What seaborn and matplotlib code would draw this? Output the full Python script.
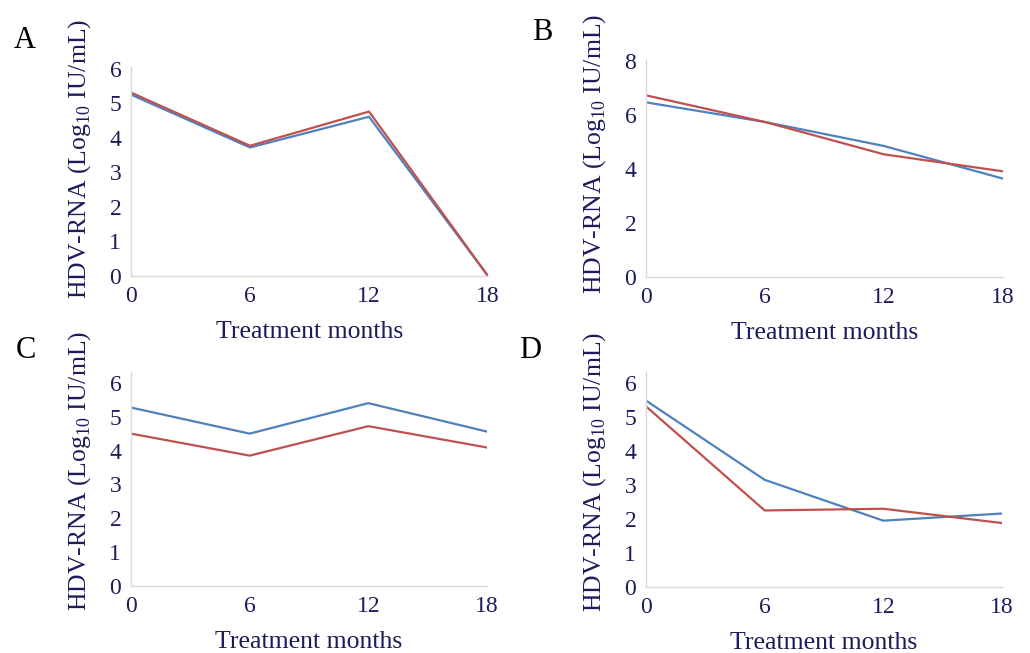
import pandas as pd
import matplotlib
matplotlib.use("Agg")
import matplotlib.pyplot as plt
import seaborn as sns

# months on the x axis
months = [0, 6, 12, 18]

# HDV-RNA values per panel (blue = first series, red = second series)
a_blue = [5.25, 3.72, 4.61, 0.0]
a_red = [5.31, 3.77, 4.76, 0.0]
b_blue = [6.48, 5.75, 4.86, 3.65]
b_red = [6.74, 5.75, 4.55, 3.92]
c_blue = [5.27, 4.50, 5.40, 4.56]
c_red = [4.50, 3.85, 4.72, 4.09]
d_blue = [5.48, 3.15, 1.95, 2.16]
d_red = [5.31, 2.25, 2.30, 1.88]

panel_letters = ["A", "B", "C", "D"]
y_limits = [(0, 6.05), (0, 8.05), (0, 6.32), (0, 6.32)]
y_ticks = [[0, 1, 2, 3, 4, 5, 6], [0, 2, 4, 6, 8],
           [0, 1, 2, 3, 4, 5, 6], [0, 1, 2, 3, 4, 5, 6]]

BLUE = "#4F81BD"
RED = "#C0504D"
NAVY = "#1c1c5c"
GRID = "#d9d9d9"

sns.set_style("white")
plt.rcParams["font.family"] = ["Liberation Serif", "DejaVu Serif"]
plt.rcParams["mathtext.fontset"] = "custom"
plt.rcParams["mathtext.rm"] = "Liberation Serif"


def make_frame(blue, red):
    rows = []
    for m, v in zip(months, blue):
        rows.append({"month": m, "value": v, "series": "blue"})
    for m, v in zip(months, red):
        rows.append({"month": m, "value": v, "series": "red"})
    return pd.DataFrame(rows)


frames = [make_frame(a_blue, a_red), make_frame(b_blue, b_red),
          make_frame(c_blue, c_red), make_frame(d_blue, d_red)]

W, H = 1030, 653
fig = plt.figure(figsize=(W / 100, H / 100), dpi=100)

# axes boxes in pixels: left, top, right, bottom
boxes = [(131, 67, 488, 276), (646, 60, 1003, 277),
         (131, 372, 487, 586), (646, 372, 1002, 587)]
letter_pos = [(14, 40), (532, 33), (16, 350), (519, 350)]
# the y titles sit a bit above the middle of each plot (pixels)
ylabel_shift = [13, 15, 8, 8]

for i, df in enumerate(frames):
    l, t, r, b = boxes[i]
    ax = fig.add_axes([l / W, 1 - b / H, (r - l) / W, (b - t) / H])
    sns.lineplot(data=df, x="month", y="value", hue="series",
                 palette={"blue": BLUE, "red": RED}, linewidth=1.6,
                 legend=False, ax=ax)
    ax.set_xlim(0, 18)
    ax.set_ylim(*y_limits[i])
    ax.set_xticks(months)
    ax.set_yticks(y_ticks[i])
    ax.tick_params(axis="both", length=0, labelsize=17, colors=NAVY, pad=7)
    for s in ["top", "right"]:
        ax.spines[s].set_visible(False)
    for s in ["left", "bottom"]:
        ax.spines[s].set_color(GRID)
        ax.spines[s].set_linewidth(1.0)
    ax.set_xlabel("Treatment months", fontsize=18.5, color=NAVY, labelpad=10)
    ax.set_ylabel(r"HDV-RNA (Log$_{\mathrm{10}}$ IU/mL)", fontsize=18.5,
                  color=NAVY, labelpad=12)
    ax.yaxis.label.set_y(0.5 + ylabel_shift[i] / (b - t))
    lx, ly = letter_pos[i]
    fig.text(lx / W, 1 - ly / H, panel_letters[i], fontsize=22,
             color="black", va="center", ha="left")

fig.savefig("out.png", dpi=100)
